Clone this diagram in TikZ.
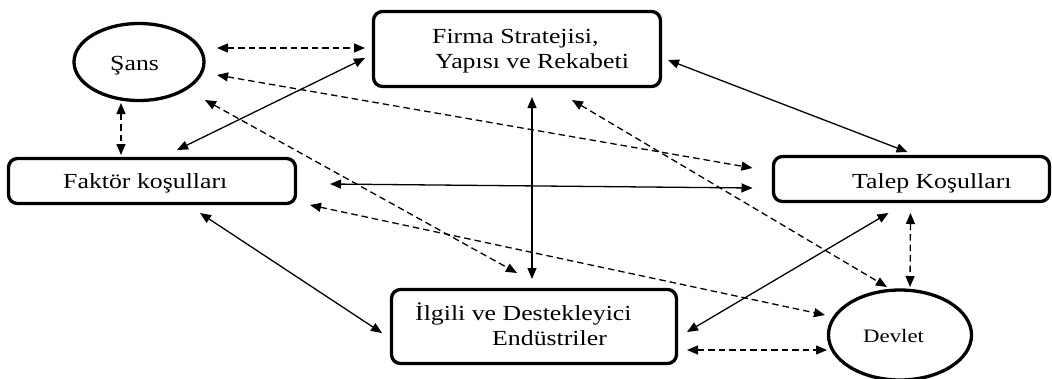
\documentclass[tikz,border=0pt]{standalone}
\usepackage{fontspec}
\setmainfont[FakeStretch=1.2]{Liberation Serif}
\usetikzlibrary{arrows.meta,shapes.geometric}
\tikzset{
  box/.style={draw,line width=3.3pt,rounded corners=9pt,inner sep=0pt},
  oval/.style={draw,ellipse,line width=3.3pt,inner sep=0pt},
  lbl/.style={inner sep=0pt,font=\fontsize{21.5}{27}\selectfont,align=left,anchor=base west},
  conn/.style={line width=1.3pt,{Triangle[length=11pt,width=9pt]}-{Triangle[length=11pt,width=9pt]}},
  dconn/.style={conn,dash pattern=on 6.5pt off 4pt},
}
\begin{document}
\begin{tikzpicture}[x=1pt,y=-1pt]
\useasboundingbox (0,0) rectangle (1052,378);
\fill[white] (0,0) rectangle (1052,378);
% nodes
\node[oval,minimum width=130pt,minimum height=77pt] (sans) at (139,62) {};
\node[box,minimum width=287pt,minimum height=75pt] (firma) at (517,49) {};
\node[box,minimum width=287pt,minimum height=45pt] (faktor) at (152,181) {};
\node[box,minimum width=276pt,minimum height=45pt] (talep) at (911.5,179) {};
\node[box,minimum width=285pt,minimum height=74pt] (ilgili) at (534,326.5) {};
\node[oval,minimum width=143pt,minimum height=90pt] (devlet) at (900,335) {};
% labels
\node[lbl] (tsans) at (110,70) {Şans};
\node[lbl] (tfirma1) at (432,43) {Firma Stratejisi,};
\node[lbl] (tfirma2) at (435,68) {Yapısı ve Rekabeti};
\node[lbl] (tfaktor) at (63,188) {Faktör koşulları};
\node[lbl] (ttalep) at (852,188) {Talep Koşulları};
\node[lbl] (tilgili1) at (415,320) {İlgili ve Destekleyici};
\node[lbl] (tilgili2) at (492,345) {Endüstriler};
\node[lbl,font=\fontsize{19}{22}\selectfont] (tdevlet) at (863,342) {Devlet};
% connectors
\draw[dconn] ([shift={(78,-14)}]sans.center) -- ([shift={(-152,-1)}]firma.center);
\draw[dconn] ([shift={(78,13)}]sans.center) -- ([shift={(-159,-11)}]talep.center);
\draw[dconn] ([shift={(66,38)}]sans.center) -- ([shift={(-17,-53.5)}]ilgili.center);
\draw[dconn] ([shift={(-18,41)}]sans.center) -- ([shift={(-31,-26)}]faktor.center);
\draw[conn] ([shift={(25,-31)}]faktor.center) -- ([shift={(-152,9)}]firma.center);
\draw[conn] ([shift={(178,3)}]faktor.center) -- ([shift={(-159,9)}]talep.center);
\draw[conn] ([shift={(48,32)}]faktor.center) -- ([shift={(-152,6.5)}]ilgili.center);
\draw[dconn] ([shift={(158,24)}]faktor.center) -- ([shift={(-75,-20)}]devlet.center);
\draw[conn] ([shift={(15,48)}]firma.center) -- ([shift={(-2,-47.5)}]ilgili.center);
\draw[conn] ([shift={(151,11)}]firma.center) -- ([shift={(-4,-27)}]talep.center);
\draw[dconn] ([shift={(55,51)}]firma.center) -- ([shift={(-13,-48)}]devlet.center);
\draw[conn] ([shift={(-23,34)}]talep.center) -- ([shift={(153,5.5)}]ilgili.center);
\draw[dconn] ([shift={(-1,34)}]talep.center) -- ([shift={(10,-48)}]devlet.center);
\draw[dconn] ([shift={(153,23.5)}]ilgili.center) -- ([shift={(-73,15)}]devlet.center);
\end{tikzpicture}
\end{document}
